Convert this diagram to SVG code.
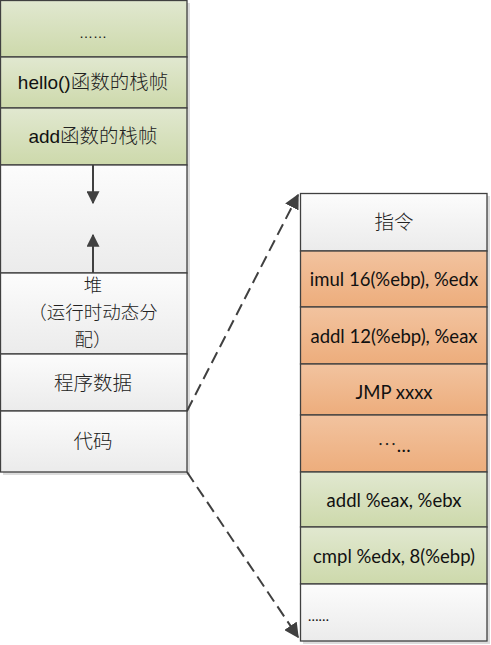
<svg xmlns="http://www.w3.org/2000/svg" width="491" height="645" viewBox="0 0 491 645">
<style>
.box{stroke:#404040;stroke-width:1.3}
.g{fill:url(#gG)}
.o{fill:url(#gO)}
.w{fill:url(#gW)}
.sh{fill:#dcdcdc}
.cn{font-family:"Noto Sans CJK SC","Noto Sans CJK JP",sans-serif;font-size:19.5px;fill:#222;text-anchor:middle;font-weight:300}
.hp{font-size:18.5px}
.ar{font-family:"Liberation Sans",Arial,sans-serif;font-size:19px;fill:#111;text-anchor:middle}
.la{font-family:Lato,"Open Sans",sans-serif;font-size:18.5px;fill:#111;text-anchor:middle}
.conn{stroke:#404040;stroke-width:2;fill:none}
.dash{stroke-dasharray:12,6}
</style>
<defs>
<linearGradient id="gG" x1="0" y1="0" x2="0" y2="1"><stop offset="0" stop-color="#e1e8d0"/><stop offset="1" stop-color="#cdd9ab"/></linearGradient>
<linearGradient id="gO" x1="0" y1="0" x2="0" y2="1"><stop offset="0" stop-color="#f2c39f"/><stop offset="1" stop-color="#edad7c"/></linearGradient>
<linearGradient id="gW" x1="0" y1="0" x2="0" y2="1"><stop offset="0" stop-color="#fcfcfc"/><stop offset="1" stop-color="#ebebeb"/></linearGradient>
<marker id="ah" viewBox="0 0 10 10" refX="9" refY="5" markerWidth="13" markerHeight="13" markerUnits="userSpaceOnUse" orient="auto"><path d="M0,0 L10,5 L0,10 z" fill="#404040"/></marker>
<marker id="ahd" viewBox="0 0 10 10" refX="9" refY="5" markerWidth="15" markerHeight="15" markerUnits="userSpaceOnUse" orient="auto"><path d="M0,0 L10,5 L0,10 z" fill="#404040"/></marker>
</defs>
<rect class="sh" x="3" y="3" width="187" height="472"/>
<rect class="sh" x="303" y="196" width="187" height="448"/>
<g id="n-dots-top"><rect class="box g" x="0.5" y="0.5" width="186.5" height="56.5"/><text class="ar" x="93" y="38" style="font-size:14px">……</text></g>
<g id="n-hello"><rect class="box g" x="0.5" y="57" width="186.5" height="51"/><text class="ar" x="93" y="89">hello()<tspan class="cn">函数的栈帧</tspan></text></g>
<g id="n-add"><rect class="box g" x="0.5" y="108" width="186.5" height="57"/><text class="ar" x="93" y="143">add<tspan class="cn">函数的栈帧</tspan></text></g>
<g id="n-empty"><rect class="box w" x="0.5" y="165" width="186.5" height="108"/></g>
<g id="n-heap"><rect class="box w" x="0.5" y="273" width="186.5" height="81"/><text class="cn hp" x="93" y="292">堆</text><text class="cn hp" x="93" y="319">（运行时动态分</text><text class="cn hp" x="93" y="346">配）</text></g>
<g id="n-data"><rect class="box w" x="0.5" y="354" width="186.5" height="57"/><text class="cn" x="93" y="390">程序数据</text></g>
<g id="n-code"><rect class="box w" x="0.5" y="411" width="186.5" height="61"/><text class="cn" x="93" y="448">代码</text></g>
<g id="n-instr"><rect class="box w" x="300.5" y="193.5" width="186.5" height="57.5"/><text class="cn" x="394" y="229">指令</text></g>
<g id="n-imul"><rect class="box o" x="300.5" y="251" width="186.5" height="56"/><text class="la" x="394" y="286">imul 16(%ebp), %edx</text></g>
<g id="n-addl1"><rect class="box o" x="300.5" y="307" width="186.5" height="57"/><text class="la" x="394" y="343">addl 12(%ebp), %eax</text></g>
<g id="n-jmp"><rect class="box o" x="300.5" y="364" width="186.5" height="51"/><text class="la" x="394" y="399">JMP xxxx</text></g>
<g id="n-ell"><rect class="box o" x="300.5" y="415" width="186.5" height="57"/><text class="la" x="394" y="452"><tspan class="cn">…</tspan>…</text></g>
<g id="n-addl2"><rect class="box g" x="300.5" y="472" width="186.5" height="55"/><text class="la" x="394" y="507">addl %eax, %ebx</text></g>
<g id="n-cmpl"><rect class="box g" x="300.5" y="527" width="186.5" height="57"/><text class="la" x="394" y="563">cmpl %edx, 8(%ebp)</text></g>
<g id="n-dots-bot"><rect class="box w" x="300.5" y="584" width="186.5" height="57"/><text class="la" x="308" y="621" style="text-anchor:start;font-size:14px">……</text></g>
<g id="connectors">
<line class="conn" x1="93" y1="165" x2="93" y2="203" marker-end="url(#ah)"/>
<line class="conn" x1="93" y1="273" x2="93" y2="235" marker-end="url(#ah)"/>
<line class="conn dash" x1="187" y1="411" x2="298" y2="195" marker-end="url(#ahd)"/>
<line class="conn dash" x1="187" y1="472" x2="298" y2="637" marker-end="url(#ahd)"/>
</g>
</svg>
